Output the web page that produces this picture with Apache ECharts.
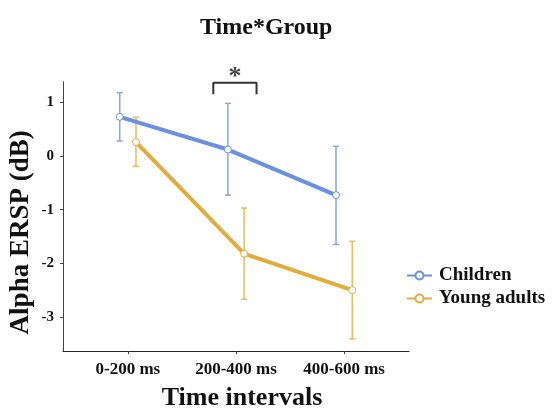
<!DOCTYPE html>
<html>
<head>
<meta charset="utf-8">
<script src="https://cdn.jsdelivr.net/npm/echarts@6/dist/echarts.min.js"></script>
<style>html,body{margin:0;padding:0;background:#fff}#c{width:554px;height:409px}</style>
</head>
<body>
<div id="c"></div>
<script>
const categories = ['0-200 ms', '200-400 ms', '400-600 ms'];
const groups = ['Children', 'Young adults'];
const childrenMean  = [0.73, 0.12, -0.73];
const childrenUpper = [1.18, 0.98, 0.18];
const childrenLower = [0.28, -0.73, -1.65];
const youngMean  = [0.26, -1.82, -2.50];
const youngUpper = [0.72, -0.97, -1.59];
const youngLower = [-0.19, -2.67, -3.41];
const yTicks = [-3, -2, -1, 0, 1];
const sigIndex = 1;
const sigMark = '*';

const FONT = "'Liberation Serif','Times New Roman',serif";
const BLUE = '#6b90de', BLUE_ERR = '#8aa6d8';
const GOLD = '#e0ad3c', GOLD_ERR = '#e4bd58';
const dodge = 0.075;
const catIdx = categories.map((c, i) => i);

function errSeries(name, off, lower, upper, color) {
  return {
    type: 'custom', name: name + ' err', z: 2, silent: true,
    data: catIdx.map(i => [i + off, lower[i], upper[i]]),
    encode: { x: 0, y: [1, 2] },
    renderItem: function (params, api) {
      const x = api.value(0);
      const lo = api.coord([x, api.value(1)]);
      const hi = api.coord([x, api.value(2)]);
      const w = 3;
      const st = { stroke: color, lineWidth: 1.5 };
      return { type: 'group', children: [
        { type: 'line', shape: { x1: lo[0], y1: lo[1], x2: hi[0], y2: hi[1] }, style: st },
        { type: 'line', shape: { x1: lo[0] - w, y1: lo[1], x2: lo[0] + w, y2: lo[1] }, style: st },
        { type: 'line', shape: { x1: hi[0] - w, y1: hi[1], x2: hi[0] + w, y2: hi[1] }, style: st }
      ]};
    }
  };
}
function lineSeries(name, off, mean, color) {
  return {
    type: 'line', name: name, z: 3,
    data: catIdx.map(i => [i + off, mean[i]]),
    symbol: 'circle', symbolSize: 7,
    itemStyle: { color: '#fff', borderColor: color, borderWidth: 1 },
    lineStyle: { color: color, width: 4 },
    color: color
  };
}

const chart = echarts.init(document.getElementById('c'));
chart.setOption({
  animation: false,
  backgroundColor: '#fff',
  title: {
    text: 'Time*Group', left: 195, top: 11,
    textStyle: { fontFamily: FONT, fontWeight: 'bold', fontSize: 24, color: '#111' }
  },
  legend: {
    data: groups, orient: 'vertical', left: 401, top: 261,
    itemWidth: 25, itemHeight: 10, itemGap: 4,
    textStyle: { fontFamily: FONT, fontWeight: 'bold', fontSize: 19, color: '#111', padding: [0, 0, 0, 2] }
  },
  grid: { left: 63, right: 145, top: 81.7, bottom: 58, containLabel: false, outerBoundsMode: 'none' },
  xAxis: {
    type: 'value', min: -0.6, max: 2.6,
    name: 'Time intervals', nameLocation: 'middle', nameGap: 34,
    nameTextStyle: { fontFamily: FONT, fontWeight: 'bold', fontSize: 26, color: '#111', padding: [0, 0, 0, 12] },
    axisLine: { show: true, onZero: false, lineStyle: { color: '#222', width: 1.2 } },
    axisTick: { show: true, customValues: catIdx, length: 3, lineStyle: { color: '#444' } },
    axisLabel: { customValues: catIdx, formatter: v => categories[Math.round(v)], margin: 10,
      fontFamily: FONT, fontWeight: 'bold', fontSize: 17, color: '#111' },
    splitLine: { show: false }
  },
  yAxis: {
    type: 'value', min: -3.634, max: 1.384,
    name: 'Alpha ERSP (dB)', nameLocation: 'middle', nameGap: 28, nameMoveOverlap: false,
    nameTextStyle: { fontFamily: FONT, fontWeight: 'bold', fontSize: 27, color: '#111', padding: [0, 32, 0, 0] },
    axisLine: { show: true, onZero: false, lineStyle: { color: '#444', width: 1 } },
    axisTick: { show: true, customValues: yTicks, length: 3, lineStyle: { color: '#444' } },
    axisLabel: { customValues: yTicks, margin: 9, fontFamily: FONT, fontWeight: 'bold', fontSize: 15, color: '#111' },
    splitLine: { show: false }
  },
  series: [
    errSeries('Children', -dodge, childrenLower, childrenUpper, BLUE_ERR),
    errSeries('Young adults', dodge, youngLower, youngUpper, GOLD_ERR),
    lineSeries('Children', -dodge, childrenMean, BLUE),
    lineSeries('Young adults', dodge, youngMean, GOLD),
    {
      type: 'line', name: 'sig', silent: true, symbol: 'none', z: 4,
      lineStyle: { color: '#333', width: 2 },
      data: [[sigIndex - 0.21, 1.15], [sigIndex - 0.21, 1.365], [sigIndex + 0.19, 1.365], [sigIndex + 0.19, 1.15]]
    },
    {
      type: 'scatter', name: 'sigmark', silent: true, symbolSize: 1, z: 4,
      itemStyle: { color: 'rgba(0,0,0,0)' },
      data: [[sigIndex - 0.01, 1.365]],
      label: { show: true, position: 'top', distance: -8, formatter: sigMark,
        fontFamily: FONT, fontWeight: 'bold', fontSize: 26, color: '#111' }
    }
  ]
});
</script>
</body>
</html>
